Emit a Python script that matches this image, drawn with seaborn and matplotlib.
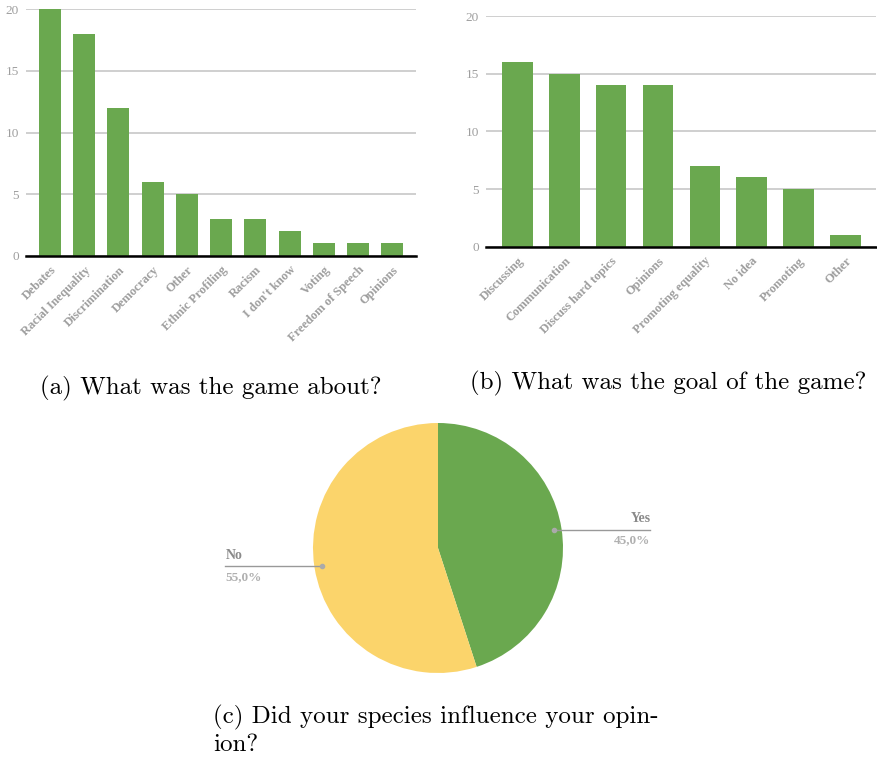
import numpy as np
import pandas as pd
import matplotlib
matplotlib.use('Agg')
import matplotlib.pyplot as plt
import seaborn as sns

# (a) What was the game about?
about_labels = ['Debates', 'Racial Inequality', 'Discrimination', 'Democracy', 'Other',
                'Ethnic Profiling', 'Racism', "I don't know", 'Voting', 'Freedom of Speech', 'Opinions']
about_counts = [20, 18, 12, 6, 5, 3, 3, 2, 1, 1, 1]

# (b) What was the goal of the game?
goal_labels = ['Discussing', 'Communication', 'Discuss hard topics', 'Opinions',
               'Promoting equality', 'No idea', 'Promoting', 'Other']
goal_counts = [16, 15, 14, 14, 7, 6, 5, 1]

# (c) Did your species influence your opinion?
pie_labels = ['Yes', 'No']
pie_shares = [45.0, 55.0]

y_ticks = [0, 5, 10, 15, 20]

GREEN = '#6aa84f'
YELLOW = '#fbd46b'
GRID = '#cccccc'
TICK = '#9e9e9e'
SERIF = 'Liberation Serif'

W, H = 878, 759


def fig_rect(left, top, right, bottom):
    """Convert pixel box (top-left origin) to figure fraction rect."""
    return [left / W, (H - bottom) / H, (right - left) / W, (bottom - top) / H]


def draw_bars(ax, labels, counts, xlim, bar_width):
    df = pd.DataFrame({'label': labels, 'count': counts})
    sns.barplot(data=df, x='label', y='count', color=GREEN, saturation=1,
                width=bar_width, ax=ax, zorder=3)
    ax.set_xlim(*xlim)
    ax.set_ylim(0, 20)
    ax.set_yticks(y_ticks)
    ax.set_xlabel('')
    ax.set_ylabel('')
    for s in ['top', 'right', 'left']:
        ax.spines[s].set_visible(False)
    ax.spines['bottom'].set_color('black')
    ax.spines['bottom'].set_linewidth(1.8)
    ax.spines['bottom'].set_zorder(4)
    ax.yaxis.grid(True, color=GRID, linewidth=1.3, zorder=0)
    ax.set_axisbelow(True)
    ax.tick_params(axis='both', length=0)
    ax.tick_params(axis='y', pad=5, labelcolor=TICK, labelsize=9.5)
    for t in ax.get_yticklabels():
        t.set_fontfamily(SERIF)
    ax.set_xticks(range(len(labels)))
    ax.set_xticklabels(labels, rotation=45, ha='right', rotation_mode='anchor',
                       fontsize=9, fontweight='bold', color=TICK, fontfamily=SERIF)
    ax.tick_params(axis='x', pad=6)


fig = plt.figure(figsize=(W / 100, H / 100), dpi=100)

ax_a = fig.add_axes(fig_rect(26, 9.3, 416, 255.7))
draw_bars(ax_a, about_labels, about_counts, (-0.70, 10.69), 0.64)

ax_b = fig.add_axes(fig_rect(486, 16, 876, 246.7))
draw_bars(ax_b, goal_labels, goal_counts, (-0.673, 7.655), 0.65)

# pie
ax_c = fig.add_axes(fig_rect(200.5, 417, 675.5, 679))
wedges, _ = ax_c.pie(pie_shares, colors=[GREEN, YELLOW], startangle=90,
                     counterclock=False, radius=1.0)
ax_c.set_xlim(-1.9, 1.9)
ax_c.set_ylim(-1.048, 1.048)

angle = 90.0
for lab, share in zip(pie_labels, pie_shares):
    mid = np.deg2rad(angle - share / 100 * 360 / 2)
    angle -= share / 100 * 360
    px, py = 0.94 * np.cos(mid), 0.94 * np.sin(mid)
    side = 1 if px > 0 else -1
    end = 1.70 * side
    ax_c.plot([px, end], [py, py], color='#999999', linewidth=1.0, zorder=5)
    ax_c.plot([px], [py], 'o', color='#aaaaaa', markersize=3, zorder=6)
    ha = 'right' if side > 0 else 'left'
    ax_c.text(end, py + 0.035, lab, ha=ha, va='bottom', fontsize=10, fontweight='bold',
              color='#8a8a8a', fontfamily=SERIF)
    ax_c.text(end, py - 0.035, f'{share:.1f}%'.replace('.', ','), ha=ha, va='top',
              fontsize=9.5, fontweight='bold', color='#b0b0b0', fontfamily=SERIF)

# captions
cap = dict(fontsize=18, fontfamily='cmr10', color='black', va='center')
fig.text(40 / W, 1 - 388 / H, '(a) What was the game about?', ha='left', **cap)
fig.text(470 / W, 1 - 383 / H, '(b) What was the goal of the game?', ha='left', **cap)
fig.text(213 / W, 1 - 717 / H, '(c) Did your species influence your opin-', ha='left', **cap)
fig.text(213 / W, 1 - 745 / H, 'ion?', ha='left', **cap)

fig.savefig('out.png', dpi=100)
